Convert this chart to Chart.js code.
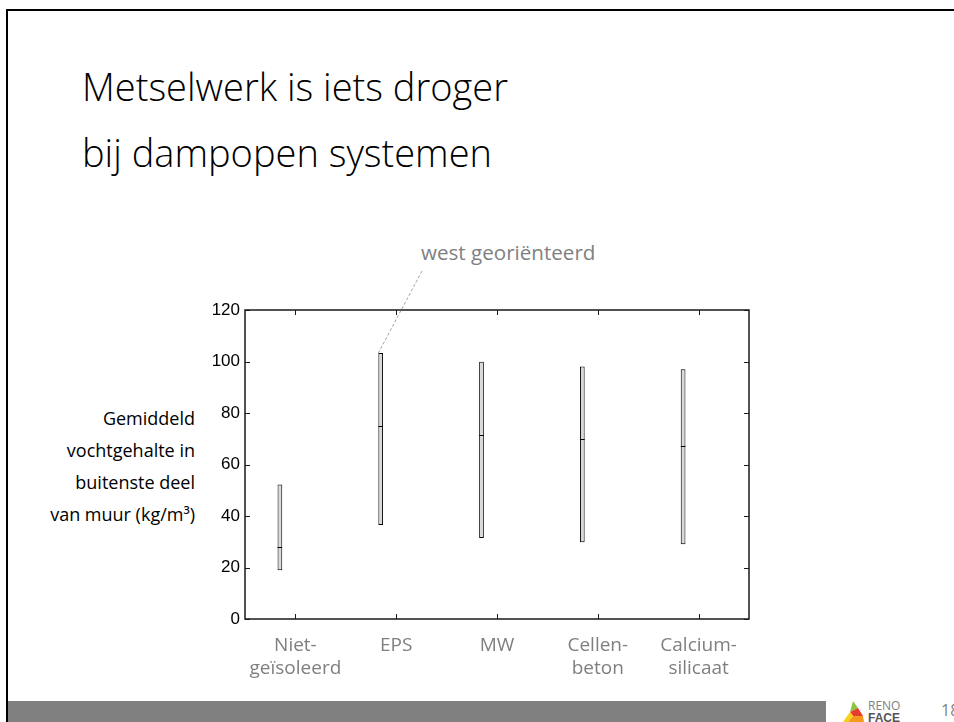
<!DOCTYPE html>
<html>
<head>
<meta charset="utf-8">
<script src="https://cdn.jsdelivr.net/npm/chart.js@4.4.1/dist/chart.umd.min.js"></script>
<style>
    html, body { margin: 0; padding: 0; background: #fff; }
    body { width: 954px; height: 722px; position: relative; overflow: hidden; font-family: 'Open Sans', sans-serif; }
    #frame { position: absolute; left: 6px; top: 9px; width: 960px; height: 730px; border-left: 2px solid #000; border-top: 2px solid #000; }
    #title { position: absolute; left: 82px; top: 53px; font-size: 38px; font-weight: 300; line-height: 66px; color: #000; white-space: nowrap; }
    #ylabel { position: absolute; right: 759px; top: 402px; font-size: 18px; line-height: 32px; text-align: right; color: #000; white-space: nowrap; }
    #note { position: absolute; left: 421px; top: 239px; font-size: 20.6px; line-height: 26px; color: #808080; white-space: nowrap; }
    #footer { position: absolute; left: 8px; top: 701px; width: 818px; height: 21px; background: #808080; }
    #logo { position: absolute; left: 842px; top: 700px; }
    #logotext { position: absolute; left: 868px; top: 700px; font-size: 12px; line-height: 12px; color: #808080; }
    #logotext b { color: #555; font-family: 'Liberation Sans', sans-serif; }
    #page { position: absolute; left: 941px; top: 699px; font-size: 16px; color: #808080; }
    #chart { position: absolute; left: 0; top: 0; }
</style>
</head>
<body>
<div id="frame"></div>
<div id="title">Metselwerk is iets droger<br>bij dampopen systemen</div>
<div id="ylabel">Gemiddeld<br>vochtgehalte in<br>buitenste deel<br>van muur (kg/m³)</div>
<div id="note">west georiënteerd</div>
<div id="footer"></div>
<svg id="logo" width="22" height="22" viewBox="0 0 22 22">
    <polygon points="11,1 16,8 8,12" fill="#8cc63f"/>
    <polygon points="16,8 21,16 11,16 8,12" fill="#e63b2e"/>
    <polygon points="8,12 11,16 6,22 1,22" fill="#f7d117"/>
    <polygon points="11,16 21,16 22,22 6,22" fill="#f39a1e"/>
</svg>
<div id="logotext">RENO<br><b>FACE</b></div>
<div id="page">18</div>
<canvas id="chart" width="954" height="722"></canvas>
<script>
const categories = [['Niet-', 'geïsoleerd'], 'EPS', 'MW', ['Cellen-', 'beton'], ['Calcium-', 'silicaat']];
const lowValues = [18.9, 36.5, 31.5, 29.8, 29.0];
const highValues = [52.2, 103.3, 99.9, 98.1, 97.0];
const medianValues = [27.8, 74.8, 71.3, 69.8, 67.2];
const yTicks = [0, 20, 40, 60, 80, 100, 120];

// box round the plot, inward ticks, median lines and the leader to the EPS bar
const boxPlugin = {
    id: 'box',
    afterDatasetsDraw(chart) {
        const ctx = chart.ctx;
        const a = chart.chartArea;
        const x = chart.scales.x;
        const y = chart.scales.y;
        const meta = chart.getDatasetMeta(0);

        ctx.save();
        ctx.strokeStyle = '#000';
        ctx.lineWidth = 1;
        meta.data.forEach((bar, i) => {
            const py = Math.round(y.getPixelForValue(medianValues[i])) + 0.5;
            ctx.beginPath();
            ctx.moveTo(bar.x - bar.width / 2, py);
            ctx.lineTo(bar.x + bar.width / 2, py);
            ctx.stroke();
        });

        ctx.strokeStyle = '#1a1a1a';
        ctx.lineWidth = 1.5;
        ctx.strokeRect(a.left, a.top, a.right - a.left, a.bottom - a.top);

        ctx.lineWidth = 1;
        x.ticks.forEach((t, i) => {
            const px = Math.round(x.getPixelForTick(i)) + 0.5;
            ctx.beginPath();
            ctx.moveTo(px, a.bottom); ctx.lineTo(px, a.bottom - 5);
            ctx.moveTo(px, a.top); ctx.lineTo(px, a.top + 5);
            ctx.stroke();
        });
        y.ticks.forEach((t, i) => {
            const py = Math.round(y.getPixelForTick(i)) + 0.5;
            ctx.beginPath();
            ctx.moveTo(a.left, py); ctx.lineTo(a.left + 5, py);
            ctx.moveTo(a.right, py); ctx.lineTo(a.right - 5, py);
            ctx.stroke();
        });

        const eps = meta.data[1];
        ctx.strokeStyle = '#8c8c8c';
        ctx.lineWidth = 0.8;
        ctx.setLineDash([3, 2]);
        ctx.beginPath();
        ctx.moveTo(422, 271);
        ctx.lineTo(eps.x - eps.width / 2, Math.min(eps.y, eps.base));
        ctx.stroke();
        ctx.restore();
    }
};

new Chart(
    document.getElementById('chart'),
    {
        type: 'bar',
        plugins: [boxPlugin],
        options: {
            responsive: false,
            animation: false,
            layout: {
                padding: { left: 200, top: 310, right: 205, bottom: 0 }
            },
            plugins: {
                legend: { display: false },
                tooltip: { enabled: false }
            },
            scales: {
                x: {
                    offset: true,
                    grid: { display: false, drawTicks: false },
                    border: { display: false },
                    afterFit: (scale) => { scale.height = 103; },
                    ticks: {
                        color: '#7f7f7f',
                        padding: 15,
                        maxRotation: 0,
                        autoSkip: false,
                        font: { family: 'Open Sans', size: 19, lineHeight: 1.2 }
                    }
                },
                y: {
                    min: 0,
                    max: 120,
                    grid: { display: false, drawTicks: false },
                    border: { display: false },
                    afterFit: (scale) => { scale.width = 45; },
                    afterBuildTicks: (scale) => { scale.ticks = yTicks.map(v => ({ value: v })); },
                    ticks: {
                        color: '#000',
                        padding: 5,
                        font: { family: 'Liberation Sans', size: 17 }
                    }
                }
            }
        },
        data: {
            labels: categories,
            datasets: [
                {
                    label: 'west',
                    data: lowValues.map((v, i) => [v, highValues[i]]),
                    backgroundColor: '#d9d9d9',
                    borderColor: '#000',
                    borderWidth: 1,
                    borderSkipped: false,
                    categoryPercentage: 0.615,
                    barPercentage: 0.152
                },
                {
                    label: '',
                    data: [],
                    categoryPercentage: 0.615,
                    barPercentage: 0.152
                }
            ]
        }
    }
);
</script>
</body>
</html>
